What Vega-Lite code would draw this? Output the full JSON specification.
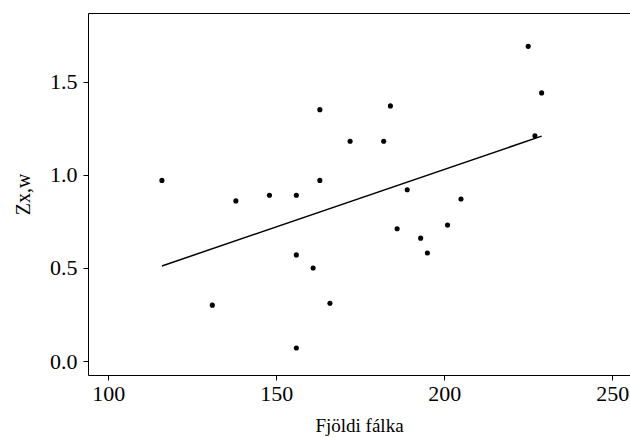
{
  "$schema": "https://vega.github.io/schema/vega-lite/v6.json",
  "autosize": {"type": "none"},
  "width": 542,
  "height": 362,
  "padding": {"left": 88, "top": 13, "right": 0, "bottom": 62},
  "config": {
    "view": {"stroke": null},
    "font": "Liberation Serif",
    "axis": {
      "grid": false,
      "domainColor": "black",
      "domainWidth": 1,
      "tickColor": "black",
      "tickSize": 5,
      "labelColor": "black",
      "labelFont": "Liberation Serif",
      "labelFontSize": 22,
      "titleFont": "Liberation Serif",
      "titleFontSize": 20,
      "titleFontWeight": "normal",
      "titleColor": "black"
    }
  },
  "data": {
    "values": [
      {"x": 116, "y": 0.97},
      {"x": 138, "y": 0.86},
      {"x": 148, "y": 0.89},
      {"x": 131, "y": 0.30},
      {"x": 163, "y": 1.35},
      {"x": 184, "y": 1.37},
      {"x": 172, "y": 1.18},
      {"x": 182, "y": 1.18},
      {"x": 163, "y": 0.97},
      {"x": 156, "y": 0.89},
      {"x": 189, "y": 0.92},
      {"x": 186, "y": 0.71},
      {"x": 193, "y": 0.66},
      {"x": 195, "y": 0.58},
      {"x": 201, "y": 0.73},
      {"x": 156, "y": 0.57},
      {"x": 161, "y": 0.50},
      {"x": 166, "y": 0.31},
      {"x": 156, "y": 0.07},
      {"x": 225, "y": 1.69},
      {"x": 229, "y": 1.44},
      {"x": 227, "y": 1.21},
      {"x": 205, "y": 0.87}
    ]
  },
  "resolve": {"axis": {"x": "independent", "y": "independent"}},
  "layer": [
    {
      "mark": {"type": "circle", "color": "black", "opacity": 1, "size": 26},
      "encoding": {
        "x": {
          "field": "x", "type": "quantitative",
          "scale": {"domain": [94.0, 255.3], "nice": false, "zero": false},
          "axis": {"values": [100, 150, 200, 250], "title": "Fjöldi fálka", "labelPadding": 3, "titlePadding": 12, "titleFontSize": 19}
        },
        "y": {
          "field": "y", "type": "quantitative",
          "scale": {"domain": [-0.075, 1.869], "nice": false, "zero": false},
          "axis": {"values": [0, 0.5, 1, 1.5], "format": ".1f", "title": "Zx,w", "labelPadding": 6, "titlePadding": 16}
        }
      }
    },
    {
      "transform": [{"regression": "y", "on": "x"}],
      "mark": {"type": "line", "color": "black", "strokeWidth": 1.5},
      "encoding": {
        "x": {
          "field": "x", "type": "quantitative",
          "scale": {"domain": [94.0, 255.3], "nice": false, "zero": false},
          "axis": {"orient": "top", "labels": false, "ticks": false, "title": null, "domain": true}
        },
        "y": {
          "field": "y", "type": "quantitative",
          "scale": {"domain": [-0.075, 1.869], "nice": false, "zero": false},
          "axis": null
        }
      }
    }
  ]
}
